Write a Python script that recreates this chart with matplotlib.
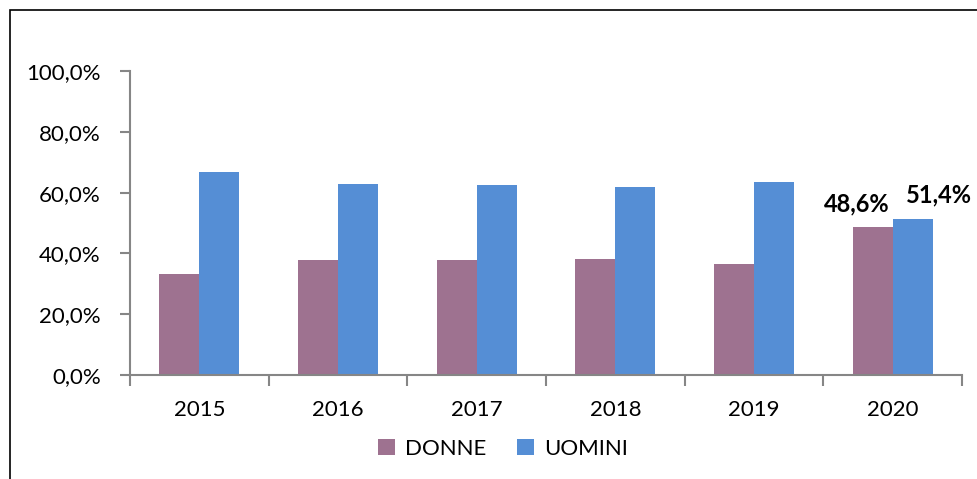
import numpy as np
import matplotlib.pyplot as plt
from matplotlib.patches import Rectangle
from matplotlib.ticker import FixedLocator, FuncFormatter

plt.rcParams['font.family'] = ['Lato', 'DejaVu Sans']

# ── Data ────────────────────────────────────────────────────────────────────
years  = ["2015", "2016", "2017", "2018", "2019", "2020"]
donne  = [33.3, 37.8, 37.8, 38.1, 36.4, 48.6]
uomini = [66.7, 62.7, 62.6, 61.9, 63.6, 51.4]
series_names = ["DONNE", "UOMINI"]

C_DONNE  = "#9E7290"
C_UOMINI = "#558ED5"
AXIS_C   = "#868686"
FS = 16

# ── Plot ────────────────────────────────────────────────────────────────────
fig = plt.figure(figsize=(9.77, 4.79), dpi=100)
ax = fig.add_axes([130/977, 1 - 375/479, 832/977, 304/479])

x = np.arange(len(years))
w = 0.288
ax.bar(x - w/2, donne, w, color=C_DONNE, label=series_names[0])
ax.bar(x + w/2, uomini, w, color=C_UOMINI, label=series_names[1])

ax.set_xlim(-0.5, len(years) - 0.5)
ax.set_ylim(0, 100)

ax.set_yticks(np.arange(0, 101, 20))
ax.yaxis.set_major_formatter(FuncFormatter(lambda v, p: f"{v:.1f}%".replace(".", ",")))
ax.set_xticks(x)
ax.set_xticklabels(years)
ax.xaxis.set_minor_locator(FixedLocator(np.arange(-0.5, len(years), 1)))

ax.tick_params(axis="x", which="major", length=0, pad=18, labelsize=FS)
ax.tick_params(axis="x", which="minor", length=8, width=1.5, color=AXIS_C)
ax.tick_params(axis="y", length=7, width=1.5, color=AXIS_C, pad=14, labelsize=FS)

for s in ["top", "right"]:
    ax.spines[s].set_visible(False)
for s in ["left", "bottom"]:
    ax.spines[s].set_color(AXIS_C)
    ax.spines[s].set_linewidth(1.5)

# labels on 2020 bars
i = len(years) - 1
ax.text(i - w/2 - 0.115, donne[i] + 4, f"{donne[i]:.1f}%".replace(".", ","),
        ha="center", va="bottom", fontsize=17, fontweight="bold")
ax.text(i + w/2 + 0.19, uomini[i] + 4, f"{uomini[i]:.1f}%".replace(".", ","),
        ha="center", va="bottom", fontsize=17, fontweight="bold")

ax.legend(loc="center", bbox_to_anchor=(503/977, 1 - 449/479),
          bbox_transform=fig.transFigure, ncol=2, frameon=False,
          fontsize=FS, handlelength=0.75, handleheight=0.75,
          handletextpad=0.45, columnspacing=1.4)

# outer chart frame (left and top visible)
fig.patches.append(Rectangle((9.5/977, -0.1), 1.2, 1 - 10/479 + 0.1,
                             transform=fig.transFigure, fill=False,
                             edgecolor="black", linewidth=1.2))

plt.savefig("out.png", dpi=100)
plt.close()
